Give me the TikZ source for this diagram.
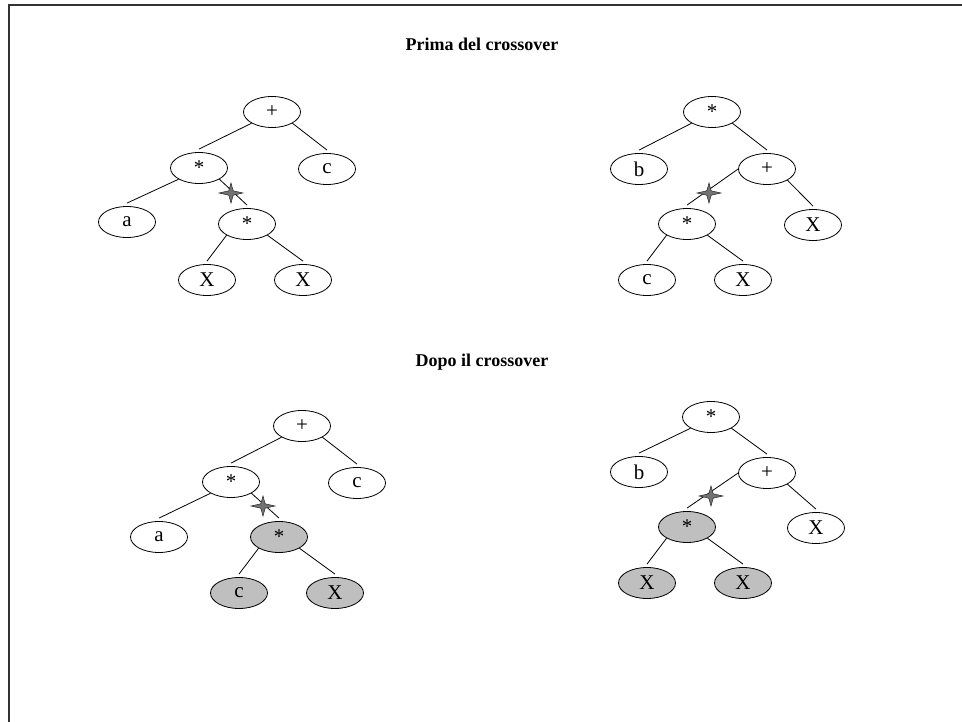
\documentclass[tikz,border=0pt]{standalone}
\usepackage{fontspec}
\setmainfont{Liberation Serif}
\usetikzlibrary{shapes.geometric}
\tikzset{
  nd/.style={ellipse, draw, line width=0.8pt, minimum width=57pt, minimum height=31pt, inner sep=0pt, font=\fontsize{21}{21}\selectfont},
  gnd/.style={nd, fill=black!25},
  edg/.style={line width=0.8pt},
  ttl/.style={font=\fontsize{18}{18}\selectfont\bfseries},
  xstar/.style={fill=black!55, draw=black!85, line width=0.5pt}
}
\newcommand\crossmark[1]{\path[xstar] (#1) +(-12,0) -- +(-2.2,-2.2) -- +(0,-10) -- +(2.2,-2.2) -- +(12,0) -- +(2.2,2.2) -- +(0,10) -- +(-2.2,2.2) -- cycle;}
\begin{document}
\begin{tikzpicture}[x=1pt,y=-1pt]
\useasboundingbox (0,0) rectangle (962,722);
\fill[white] (0,0) rectangle (962,722);
\draw[line width=1.3pt, black!80] (9,722) -- (9,5) -- (962,5);

\node[ttl] (t1) at (482,44) {Prima del crossover};
\node[ttl] (t2) at (482,362) {Dopo il crossover};

% Tree 1
\node[nd] (A) at (272,112) {+};
\node[nd] (B) at (199,168) {*};
\node[nd] (C) at (327,169) {c};
\node[nd] (D) at (127,222) {a};
\node[nd] (E) at (247,224) {*};
\node[nd] (F) at (207,280) {X};
\node[nd] (G) at (303,280) {X};
\draw[edg] (A.south west) -- ([yshift=3pt]B.north);
\draw[edg] (A.south east) -- ([yshift=3pt]C.north);
\draw[edg] (B.south west) -- ([yshift=3pt]D.north);
\draw[edg] (B.south east) -- ([yshift=3pt]E.north);
\draw[edg] (E.south west) -- ([yshift=3pt]F.north);
\draw[edg] (E.south east) -- ([yshift=3pt]G.north);
\coordinate (s1) at (231,193);
\crossmark{s1}

% Tree 2
\node[nd] (H) at (712,112) {*};
\node[nd] (I) at (639,169) {b};
\node[nd] (J) at (767,169) {+};
\node[nd] (K) at (687,224) {*};
\node[nd] (L) at (813,225) {X};
\node[nd] (M) at (647,280) {c};
\node[nd] (N) at (743,280) {X};
\draw[edg] (H.south west) -- ([yshift=3pt]I.north);
\draw[edg] (H.south east) -- ([yshift=3pt]J.north);
\draw[edg] (J.west) -- ([yshift=3pt]K.north);
\draw[edg] (J.south east) -- ([yshift=3pt]L.north);
\draw[edg] (K.south west) -- ([yshift=3pt]M.north);
\draw[edg] (K.south east) -- ([yshift=3pt]N.north);
\coordinate (s2) at (709,193);
\crossmark{s2}

% Tree 3
\node[nd] (O) at (302,426) {+};
\node[nd] (P) at (231,482) {*};
\node[nd] (Q) at (357,483) {c};
\node[nd] (R) at (159,537) {a};
\node[gnd] (S) at (279,537) {*};
\node[gnd] (T) at (239,593) {c};
\node[gnd] (U) at (335,593) {X};
\draw[edg] (O.south west) -- ([yshift=3pt]P.north);
\draw[edg] (O.south east) -- ([yshift=3pt]Q.north);
\draw[edg] (P.south west) -- ([yshift=3pt]R.north);
\draw[edg] (P.south east) -- ([yshift=3pt]S.north);
\draw[edg] (S.south west) -- ([yshift=3pt]T.north);
\draw[edg] (S.south east) -- ([yshift=3pt]U.north);
\coordinate (s3) at (263,506);
\crossmark{s3}

% Tree 4
\node[nd] (V) at (711,417) {*};
\node[nd] (W) at (639,472) {b};
\node[nd] (X) at (767,473) {+};
\node[gnd] (Y) at (687,527) {*};
\node[nd] (Z) at (816,528) {X};
\node[gnd] (Z1) at (647,583) {X};
\node[gnd] (Z2) at (743,583) {X};
\draw[edg] (V.south west) -- ([yshift=3pt]W.north);
\draw[edg] (V.south east) -- ([yshift=3pt]X.north);
\draw[edg] (X.west) -- ([yshift=3pt]Y.north);
\draw[edg] (X.south east) -- ([yshift=3pt]Z.north);
\draw[edg] (Y.south west) -- ([yshift=3pt]Z1.north);
\draw[edg] (Y.south east) -- ([yshift=3pt]Z2.north);
\coordinate (s4) at (711,496);
\crossmark{s4}
\end{tikzpicture}
\end{document}
